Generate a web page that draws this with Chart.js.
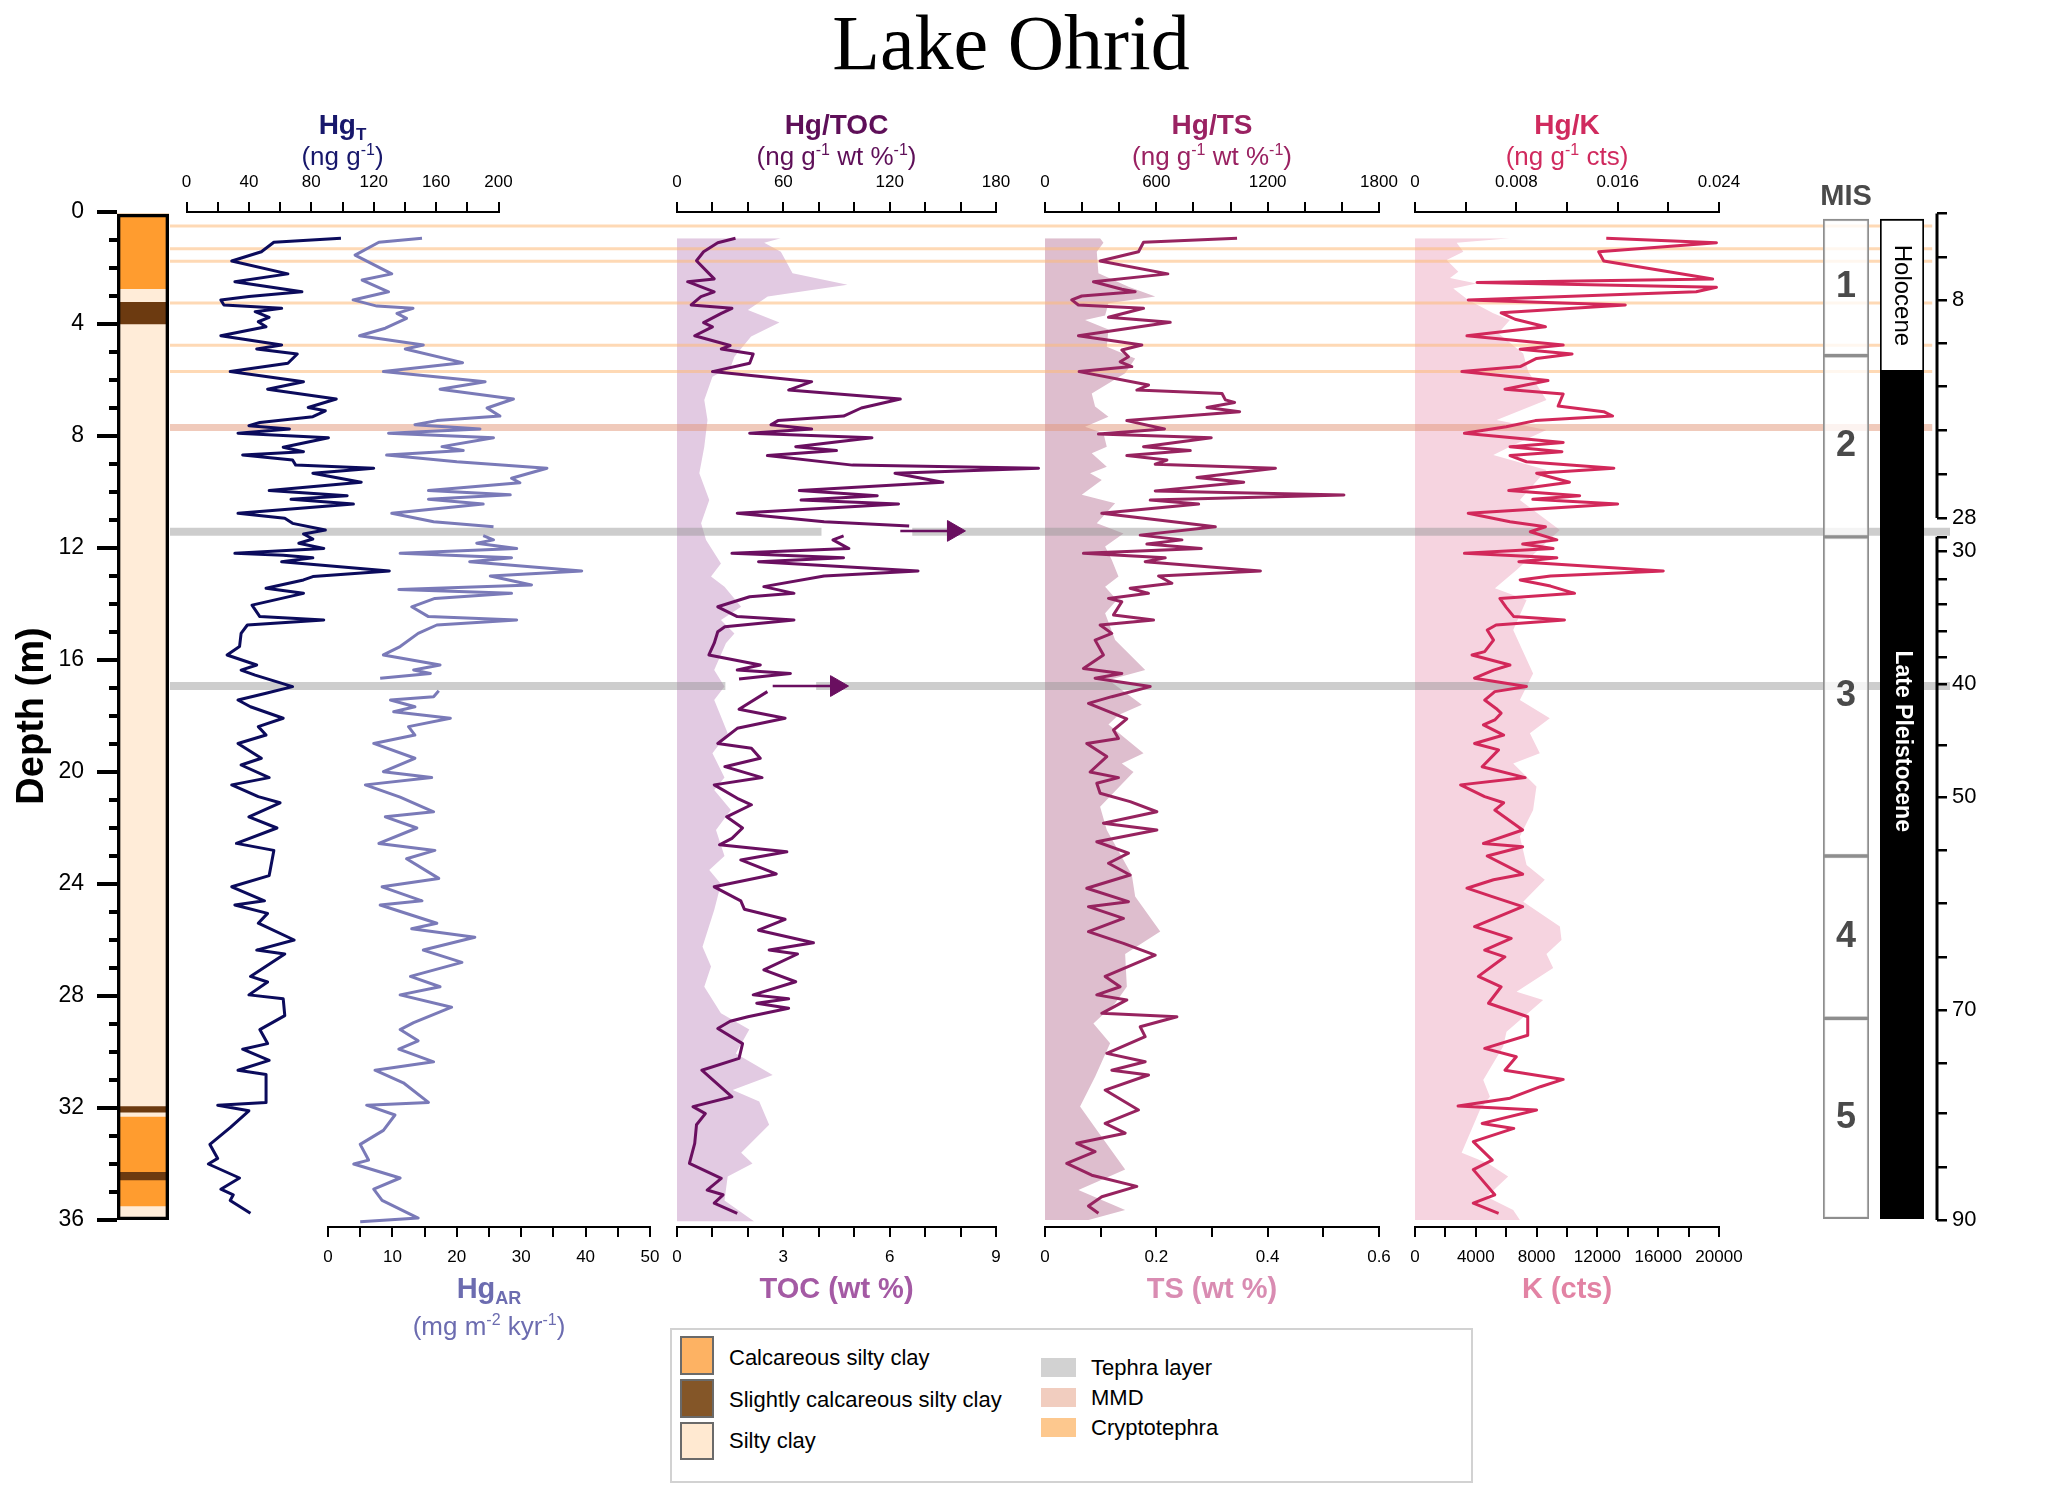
<!DOCTYPE html>
<html lang="en">
<head>
<meta charset="UTF-8">
<title>Lake Ohrid</title>
<script src="https://cdn.jsdelivr.net/npm/chart.js"></script>
<style>
  html, body { margin: 0; padding: 0; background: #fff; }
  body { width: 2067px; height: 1499px; position: relative; overflow: hidden;
         font-family: "Liberation Sans", Arial, sans-serif; }
  canvas { position: absolute; top: 0; }
  #title { position: absolute; left: 0; width: 2022px; top: 4px; text-align: center;
           font-family: "Liberation Serif", "Times New Roman", serif; font-size: 78px;
           line-height: 78px; color: #000; z-index: 5; }
  #legend { position: absolute; left: 670px; top: 1328px; width: 803px; height: 155px;
            box-sizing: border-box; border: 2px solid #d2d2d2; background: #fff; z-index: 5; }
  .sw { position: absolute; left: 8px; width: 34px; box-sizing: border-box; border: 2px solid #6a6a6a; }
  .bs { position: absolute; left: 369px; width: 35px; height: 19px; }
  .lt { position: absolute; font-size: 22px; line-height: 26px; transform: translateY(-50%); white-space: nowrap; color: #000; }
</style>
</head>
<body>
<div id="title">Lake Ohrid</div>
<div id="legend">
  <div class="sw" style="top:6px;height:39px;background:#fdb263"></div>
  <div class="lt" style="left:57px;top:28px">Calcareous silty clay</div>
  <div class="sw" style="top:49px;height:39px;background:#845628"></div>
  <div class="lt" style="left:57px;top:70px">Slightly calcareous silty clay</div>
  <div class="sw" style="top:92px;height:38px;background:#ffe9d1"></div>
  <div class="lt" style="left:57px;top:111px">Silty clay</div>
  <div class="bs" style="top:28px;background:#d2d2d2"></div>
  <div class="lt" style="left:419px;top:38px">Tephra layer</div>
  <div class="bs" style="top:58px;background:#f1cdbf"></div>
  <div class="lt" style="left:419px;top:68px">MMD</div>
  <div class="bs" style="top:88px;background:#fdc88e"></div>
  <div class="lt" style="left:419px;top:98px">Cryptotephra</div>
</div>

<script>
// ---- data: [depth (m), value] ----
const hgtProfile = [[0.94,99],[1.08,56],[1.42,48],[1.75,29],[2.21,65],[2.49,31],[2.85,74],[3.02,40],[3.14,22],[3.32,24],
  [3.44,61],[3.56,44],[3.76,53],[3.92,46],[4.10,51],[4.42,22],[4.75,61],[4.89,45],[5.07,71],[5.40,65],
  [5.70,28],[6.06,75],[6.33,52],[6.68,96],[6.98,78],[7.10,89],[7.31,81],[7.52,47],[7.63,40],[7.75,66],
  [7.90,33],[8.06,91],[8.40,62],[8.56,75],[8.68,36],[8.86,68],[9.04,70],[9.15,120],[9.33,81],[9.65,112],
  [9.95,53],[10.13,103],[10.26,67],[10.43,107],[10.76,33],[10.94,63],[11.12,68],[11.36,89],[11.50,75],[11.68,81],
  [11.83,72],[12.02,88],[12.19,31],[12.26,62],[12.35,81],[12.49,61],[12.82,130],[13.02,81],[13.14,75],[13.44,51],
  [13.62,75],[14.04,42],[14.45,47],[14.57,88],[14.75,39],[15.05,35],[15.52,34],[15.82,26],[16.18,45],[16.36,35],
  [16.54,44],[16.95,68],[17.19,51],[17.43,33],[17.67,41],[18.08,62],[18.38,46],[18.68,51],[18.98,33],[19.51,48],
  [19.75,35],[20.20,53],[20.46,29],[20.88,46],[21.10,60],[21.60,40],[22.00,58],[22.55,32],[22.80,56],[23.70,53],
  [24.10,29],[24.60,50],[24.75,31],[25.05,52],[25.40,46],[26.00,69],[26.36,45],[26.50,63],[27.30,41],[27.50,52],
  [27.96,40],[28.10,62],[28.70,63],[29.20,47],[29.70,52],[29.90,36],[30.30,53],[30.65,33],[30.80,51],[31.80,51],
  [31.90,20],[32.10,40],[32.70,28],[33.30,15],[33.80,20],[34.00,14],[34.50,34],[34.90,22],[35.10,30],[35.30,28],[35.76,41]];

const hgarProfile = [[0.94,14.6],[1.08,7.9],[1.54,4.2],[2.21,9.9],[2.43,5.3],[2.85,9.4],[3.14,3.9],[3.36,7.6],[3.44,13.2],[3.62,10.7],
  [3.80,12.2],[4.15,8.9],[4.42,4.9],[4.75,14.8],[4.89,12.0],[5.38,20.9],[5.70,8.6],[6.06,24.4],[6.33,17.4],[6.68,28.8],
  [7.00,24.7],[7.29,26.7],[7.45,16.9],[7.60,13.5],[7.75,23.6],[7.90,9.4],[8.06,25.7],[8.38,17.7],[8.52,21.0],[8.68,9.1],
  [8.92,20.0],[9.15,34.0],[9.51,28.5],[9.67,29.8],[9.95,15.6],[10.10,28.3],[10.26,15.6],[10.43,24.1],[10.76,9.9],[11.06,16.4],
  [11.24,25.7],[11.40,null],[11.56,24.1],[11.71,25.7],[11.83,23.1],[12.02,29.3],[12.19,11.2],[12.35,28.5],[12.49,22.0],[12.82,39.4],
  [13.00,25.2],[13.32,31.6],[13.48,11.0],[13.62,28.5],[13.80,16.6],[14.10,13.0],[14.45,15.6],[14.57,29.3],[14.75,16.9],[15.05,14.0],
  [15.52,11.2],[15.82,8.6],[16.18,17.4],[16.36,13.3],[16.48,15.9],[16.65,8.1],[16.90,null],[17.10,17.2],[17.31,16.4],[17.43,9.7],
  [17.67,13.5],[17.85,10.2],[18.08,19.0],[18.38,12.5],[18.68,13.5],[18.98,7.1],[19.51,13.5],[19.99,8.6],[20.20,16.1],[20.46,5.8],
  [20.90,11.2],[21.42,16.4],[21.60,8.9],[22.00,13.8],[22.55,7.9],[22.80,16.6],[23.10,12.2],[23.80,17.2],[24.10,8.4],[24.60,14.6],
  [24.75,8.1],[25.40,16.9],[25.60,13.0],[25.90,22.8],[26.36,14.8],[26.80,20.8],[27.30,12.8],[27.67,17.4],[27.96,11.2],[28.40,19.2],
  [28.95,13.3],[29.20,11.2],[29.60,14.0],[29.90,11.0],[30.35,16.4],[30.65,7.3],[31.10,11.7],[31.80,15.6],[31.90,6.0],[32.25,10.4],
  [32.80,8.6],[33.30,5.0],[33.86,6.3],[34.00,4.0],[34.50,11.2],[34.90,7.1],[35.30,8.4],[35.93,14.0],[36.06,5.0]];

const hgtocProfile = [[0.94,33],[1.10,23],[1.42,15],[1.74,11],[2.39,21],[2.49,6],[2.85,21],[3.02,13.5],[3.32,8],[3.44,31],
  [3.62,25],[3.95,15],[4.10,20],[4.42,10],[4.77,30],[4.89,25],[5.07,43],[5.40,41],[5.70,20],[6.06,76],
  [6.36,63],[6.68,126],[7.00,104],[7.29,94],[7.45,57],[7.60,53],[7.75,76],[7.90,41],[8.06,110],[8.38,67],
  [8.52,90],[8.70,51],[9.04,99],[9.15,204],[9.33,123],[9.65,150],[9.95,69],[10.13,113],[10.29,70],[10.43,125],
  [10.76,34],[11.06,83],[11.21,131],[11.40,null],[11.57,94],[11.71,88],[12.02,97],[12.19,31],[12.35,94],[12.49,46],
  [12.82,136],[13.00,83],[13.38,49],[13.62,66],[13.74,41],[14.10,23],[14.45,34],[14.57,66],[14.81,27],[14.99,23],
  [15.40,21],[15.82,18],[16.18,47],[16.36,34],[16.48,64],[16.68,35],[16.93,null],[17.13,51],[17.76,35],[18.08,61],
  [18.44,34],[18.98,23],[19.15,42],[19.51,47],[19.81,27],[20.20,48],[20.46,21],[20.94,34],[21.17,42],[21.60,28],
  [22.00,37],[22.37,31],[22.60,24],[22.85,62],[23.14,36],[23.64,56],[24.10,21],[24.60,36],[24.90,38],[25.26,61],
  [25.65,46],[26.10,77],[26.36,52],[26.50,68],[27.07,49],[27.49,67],[27.96,43],[28.10,63],[28.26,45],[28.44,63],
  [28.74,40],[28.90,30],[29.16,23],[29.70,37],[30.23,35],[30.65,14],[31.60,31],[31.95,9],[32.20,16],[32.60,11],
  [33.26,10],[33.98,7],[34.51,25],[34.93,17],[35.10,26],[35.40,21],[35.76,34]];

// Hg/TOC values beyond the plotted part are flagged with arrows
const hgtocArrowDepth = [11.39, 16.93];
const hgtocArrowFrom  = [126, 54];
const hgtocArrowTo    = [156, 90];

const tocProfile = [[0.94,2.93],[1.10,2.46],[1.42,2.93],[2.19,3.26],[2.60,4.81],[3.02,2.56],[3.50,2.0],[3.95,2.89],[4.45,2.09],[5.17,1.62],
  [5.52,1.52],[5.88,1.0],[6.71,0.77],[7.43,0.86],[8.38,0.77],[9.33,0.63],[10.29,0.91],[11.12,0.68],[11.71,0.82],[12.55,1.24],
  [13.02,0.96],[13.38,1.34],[14.10,1.81],[14.57,1.24],[15.05,1.62],[15.40,1.38],[16.36,1.05],[16.95,1.34],[17.43,1.05],[18.02,1.24],
  [18.62,1.43],[19.33,1.0],[20.20,1.34],[20.64,1.05],[21.36,1.52],[22.07,1.10],[23.00,1.34],[23.50,0.91],[24.00,1.24],[24.93,1.05],
  [26.24,0.72],[26.95,0.96],[27.67,0.77],[28.62,1.24],[29.20,2.04],[30.05,1.66],[30.82,2.70],[31.36,1.57],[31.77,2.32],[32.60,2.60],
  [33.60,1.81],[33.98,2.13],[34.45,1.43],[35.30,1.34],[36.05,2.18]];

const hgtsProfile = [[0.94,1035],[1.08,531],[1.42,504],[1.75,297],[2.21,662],[2.49,261],[2.76,414],[2.85,486],[3.00,198],[3.14,144],
  [3.32,180],[3.44,531],[3.76,342],[3.94,675],[4.42,180],[4.75,522],[4.93,414],[5.17,450],[5.35,405],[5.52,468],
  [5.70,184],[6.18,558],[6.36,495],[6.48,954],[6.71,972],[6.80,1022],[6.98,873],[7.13,1049],[7.45,441],[7.75,644],
  [7.93,288],[8.06,896],[8.38,531],[8.52,783],[8.70,441],[8.86,657],[9.01,594],[9.15,1242],[9.48,819],[9.65,1071],
  [9.96,594],[10.11,1611],[10.29,567],[10.43,828],[10.76,306],[11.24,918],[11.54,513],[11.71,738],[11.86,549],[12.02,842],
  [12.19,207],[12.35,648],[12.49,540],[12.82,1161],[13.00,612],[13.26,684],[13.44,459],[13.62,558],[13.80,342],[13.92,414],
  [14.39,369],[14.57,585],[14.75,297],[15.05,360],[15.29,270],[15.82,315],[16.30,207],[16.48,414],[16.65,270],[16.95,567],
  [17.31,360],[17.55,234],[17.79,324],[18.10,441],[18.50,369],[18.80,396],[18.98,225],[19.45,333],[20.00,243],[20.20,396],
  [20.40,279],[20.76,297],[21.06,459],[21.42,603],[21.83,315],[22.07,603],[22.49,279],[22.90,450],[23.26,342],[23.68,459],
  [24.15,225],[24.63,450],[24.81,234],[25.23,423],[25.70,234],[26.12,423],[26.54,594],[27.30,324],[27.67,405],[27.96,279],
  [28.14,441],[28.62,306],[28.74,711],[29.10,513],[29.45,540],[30.05,333],[30.35,540],[30.65,360],[30.82,558],[31.36,324],
  [32.07,504],[32.55,324],[32.90,432],[33.26,171],[33.56,270],[33.98,117],[34.40,252],[34.80,495],[35.17,306],[35.50,234],[35.76,288]];

const tsProfile = [[0.94,0.099],[1.10,0.105],[1.42,0.093],[2.19,0.096],[2.67,0.150],[3.02,0.198],[3.26,0.114],[3.70,0.108],[3.86,0.072],[4.20,0.114],
  [4.81,0.111],[5.23,0.162],[5.76,0.144],[6.48,0.084],[6.95,0.090],[7.31,0.114],[7.67,0.072],[7.90,0.105],[8.38,0.111],[8.62,0.084],
  [9.10,0.111],[9.33,0.081],[9.57,0.102],[10.10,0.066],[10.40,0.126],[11.12,0.093],[11.48,0.141],[11.95,0.108],[12.43,0.120],[13.02,0.132],
  [13.38,0.108],[13.86,0.129],[14.33,0.108],[15.29,0.126],[16.36,0.180],[16.71,0.114],[17.60,0.174],[17.96,0.132],[18.30,0.114],[19.33,0.177],
  [19.70,0.138],[20.00,0.159],[21.24,0.099],[22.07,0.111],[23.68,0.156],[24.45,0.162],[25.70,0.207],[26.50,0.144],[27.67,0.147],[28.26,0.126],
  [28.98,0.087],[29.69,0.117],[30.88,0.090],[31.95,0.063],[32.79,0.093],[34.20,0.144],[34.93,0.060],[35.64,0.144],[36.00,0.078]];

const hgkProfile = [[0.94,0.0151],[1.10,0.0238],[1.42,0.0145],[1.75,0.0149],[2.39,0.0235],[2.52,0.0049],[2.69,0.0238],[2.85,0.0222],[3.14,0.0042],[3.32,0.0166],
  [3.60,0.0068],[3.83,0.0079],[4.10,0.0103],[4.42,0.0041],[4.75,0.0117],[4.90,0.0083],[5.07,0.0124],[5.23,0.0096],[5.52,0.0083],[5.70,0.0037],
  [6.02,0.0105],[6.33,0.0071],[6.50,0.0117],[6.93,0.0113],[7.13,0.0149],[7.29,0.0156],[7.45,0.0095],[7.67,0.0072],[7.90,0.0039],[8.23,0.0117],
  [8.38,0.0075],[8.56,0.0116],[8.70,0.0075],[8.92,0.0088],[9.15,0.0157],[9.33,0.0096],[9.65,0.0122],[9.95,0.0074],[10.13,0.0130],[10.26,0.0093],
  [10.43,0.0160],[10.76,0.0042],[11.06,0.0075],[11.24,0.0103],[11.42,0.0091],[11.71,0.0112],[11.86,0.0085],[12.02,0.0109],[12.19,0.0039],[12.35,0.0112],
  [12.49,0.0082],[12.82,0.0196],[13.00,0.0107],[13.14,0.0083],[13.36,0.0107],[13.62,0.0126],[13.80,0.0067],[14.12,0.0072],[14.45,0.0078],[14.57,0.0118],
  [14.75,0.0064],[14.93,0.0057],[15.29,0.0062],[15.70,0.0055],[15.82,0.0045],[16.18,0.0075],[16.36,0.0062],[16.65,0.0047],[16.95,0.0088],[17.13,0.0063],
  [17.43,0.0055],[17.73,0.0064],[17.90,0.0068],[18.14,0.0063],[18.32,0.0054],[18.68,0.0070],[18.98,0.0047],[19.21,0.0066],[19.81,0.0053],[20.20,0.0087],
  [20.46,0.0036],[20.88,0.0055],[21.10,0.0070],[21.36,0.0063],[22.07,0.0085],[22.55,0.0054],[22.67,0.0085],[23.00,0.0057],[23.65,0.0085],[23.85,0.0062],
  [24.15,0.0041],[24.45,0.0061],[24.81,0.0085],[25.52,0.0047],[25.94,0.0076],[26.36,0.0055],[26.60,0.0071],[27.30,0.0050],[27.67,0.0068],[28.26,0.0058],
  [28.74,0.0089],[29.40,0.0089],[29.87,0.0055],[30.17,0.0080],[30.65,0.0071],[30.98,0.0117],[31.24,0.0099],[31.65,0.0075],[31.93,0.0034],[32.07,0.0096],
  [32.55,0.0053],[32.73,0.0078],[33.20,0.0046],[33.86,0.0061],[34.20,0.0046],[35.10,0.0063],[35.40,0.0046],[35.76,0.0066]];

const kProfile = [[0.94,6240],[1.10,2740],[1.42,3180],[1.71,2080],[2.13,2850],[2.36,2300],[2.55,4050],[2.73,2520],[3.14,3500],[3.62,5150],
  [3.86,6240],[4.33,5480],[5.05,7120],[5.70,7450],[6.71,8650],[7.43,5370],[7.79,8650],[8.38,6240],[8.68,5150],[9.21,8650],
  [10.29,6900],[11.00,8650],[11.36,9530],[12.79,6680],[13.44,5260],[13.86,7340],[14.93,6460],[16.48,7770],[17.43,6900],[18.08,8870],
  [18.62,7560],[19.33,8210],[19.70,6460],[20.52,7990],[21.36,7770],[22.30,6900],[23.32,7340],[23.85,8540],[24.63,7120],[25.52,9530],
  [26.00,9640],[26.50,8650],[27.00,9090],[27.85,6680],[28.14,8430],[29.28,6020],[29.80,5800],[31.00,4490],[31.60,4930],[32.07,4270],
  [33.60,3070],[33.98,4820],[34.45,6130],[35.17,4710],[35.64,6460],[36.00,6900]];

// lithology column (depth intervals)
const lithTop    = [0, 2.74, 3.2, 4.0, 31.93, 32.15, 32.3, 34.27, 34.57, 35.5];
const lithBottom = [2.74, 3.2, 4.0, 31.93, 32.15, 32.3, 34.27, 34.57, 35.5, 36];
const lithType   = ['calc', 'silty', 'slight', 'silty', 'slight', 'silty', 'calc', 'slight', 'calc', 'silty'];

// marine isotope stages
const misTop    = [0.25, 5.13, 11.6, 23.0, 28.8];
const misBottom = [5.13, 11.6, 23.0, 28.8, 35.95];
const misLabels = ['1', '2', '3', '4', '5'];

// epochs
const epochTop    = [0.25, 5.7];
const epochBottom = [5.7, 35.95];
const epochLabels = ['Holocene', 'Late Pleistocene'];
const epochLabelDepth = [2.98, 18.9];

// age scale (ka) against depth
const ageTickDepth = [0.05, 1.6, 3.15, 4.7, 6.24, 7.81, 9.36, 10.93, 11.6, 12.1, 13.1, 14.0, 14.96, 15.9, 16.87,
  19.04, 20.9, 22.8, 24.7, 26.6, 28.5, 30.4, 32.2, 34.1, 36.0];
const ageTickLabel = ['', '', '8', '', '', '', '', '28', '', '30', '', '', '', '', '40',
  '', '50', '', '', '', '70', '', '', '', '90'];
const ageSegTop    = [0.05, 11.6];
const ageSegBottom = [10.93, 36.0];

// horizontal marker layers: depth, kind, extent (fraction of the frame)
const bandDepth = [0.5, 1.31, 1.76, 3.25, 4.76, 5.7, 7.7, 11.42, 16.93];
const bandKind  = ['crypto', 'crypto', 'crypto', 'crypto', 'crypto', 'crypto', 'mmd', 'tephra', 'tephra'];
const bandSpans = [[[0, 0.99]], [[0, 0.99]], [[0, 0.99]], [[0, 0.99]], [[0, 0.99]], [[0, 0.99]], [[0, 0.99]],
  [[0, 0.366], [0.417, 1]], [[0, 0.312], [0.363, 1]]];

// axis ticks
const depthTicks = [0, 4, 8, 12, 16, 20, 24, 28, 32, 36];
const hgtTicks = [0, 20, 40, 60, 80, 100, 120, 140, 160, 180, 200];
const hgtTickLabels = ['0', '', '40', '', '80', '', '120', '', '160', '', '200'];
const hgarTicks = [0, 5, 10, 15, 20, 25, 30, 35, 40, 45, 50];
const hgarTickLabels = ['0', '', '10', '', '20', '', '30', '', '40', '', '50'];
const hgtocTicks = [0, 20, 40, 60, 80, 100, 120, 140, 160, 180];
const hgtocTickLabels = ['0', '', '', '60', '', '', '120', '', '', '180'];
const tocTicks = [0, 1, 2, 3, 4, 5, 6, 7, 8, 9];
const tocTickLabels = ['0', '', '', '3', '', '', '6', '', '', '9'];
const hgtsTicks = [0, 200, 400, 600, 800, 1000, 1200, 1400, 1600, 1800];
const hgtsTickLabels = ['0', '', '', '600', '', '', '1200', '', '', '1800'];
const tsTicks = [0, 0.1, 0.2, 0.3, 0.4, 0.5, 0.6];
const tsTickLabels = ['0', '', '0.2', '', '0.4', '', '0.6'];
const hgkTicks = [0, 0.004, 0.008, 0.012, 0.016, 0.02, 0.024];
const hgkTickLabels = ['0', '', '0.008', '', '0.016', '', '0.024'];
const kTicks = [0, 2000, 4000, 6000, 8000, 10000, 12000, 14000, 16000, 18000, 20000];
const kTickLabels = ['0', '', '4000', '', '8000', '', '12000', '', '16000', '', '20000'];

// ---- layout / styling ----
const FONT = '"Liberation Sans", Arial, Helvetica, sans-serif';
const H = 1499;
const TOP = 212;          // depth 0
const BOT = 1220;         // depth 36
const PANEL_BOT = 1227;   // bottom axis line of the profile panels
const PANEL_MAX = 36.25;  // depth at PANEL_BOT
const AXIS_H = 44;

Chart.defaults.font.family = FONT;
Chart.defaults.color = '#000';

function makeChart(left, width, pad, config) {
  const cv = document.createElement('canvas');
  cv.width = width;
  cv.height = H;
  cv.style.left = left + 'px';
  cv.style.width = width + 'px';
  cv.style.height = H + 'px';
  document.body.appendChild(cv);
  config.options = Object.assign({
    responsive: false, animation: false, devicePixelRatio: 1, events: [],
    layout: { autoPadding: false, padding: pad }
  }, config.options || {});
  config.options.plugins = Object.assign({ legend: { display: false }, tooltip: { enabled: false } },
    config.options.plugins || {});
  return new Chart(cv, config);
}

function rich(ctx, parts, cx, baseline, size, color, bold) {
  const font = k => (bold ? 'bold ' : '') + (k ? Math.round(size * 0.62) : size) + 'px ' + FONT;
  let w = 0;
  parts.forEach(p => { ctx.font = font(p[1]); w += ctx.measureText(p[0]).width; });
  let x = cx - w / 2;
  ctx.fillStyle = color;
  ctx.textAlign = 'left';
  ctx.textBaseline = 'alphabetic';
  parts.forEach(p => {
    ctx.font = font(p[1]);
    const dy = p[1] === 'sup' ? -size * 0.4 : p[1] === 'sub' ? size * 0.22 : 0;
    ctx.fillText(p[0], x, baseline + dy);
    x += ctx.measureText(p[0]).width;
  });
}

function titlePlugin(lines) {
  return {
    id: 'panelTitles',
    afterDraw(chart) {
      const a = chart.chartArea, ctx = chart.ctx;
      ctx.save();
      lines.forEach(l => rich(ctx, l.parts, (a.left + a.right) / 2, l.y, l.size, l.color, l.bold));
      ctx.restore();
    }
  };
}

function xAxis(pos, min, max, ticks, labels) {
  return {
    type: 'linear', position: pos, min: min, max: max,
    afterBuildTicks: s => { s.ticks = ticks.map(v => ({ value: v })); },
    afterFit: s => { s.height = AXIS_H; },
    ticks: { autoSkip: false, maxRotation: 0, padding: pos === 'top' ? 9 : 10,
             color: '#000', font: { size: 17 }, callback: (v, i) => labels[i] },
    grid: { drawOnChartArea: false, tickLength: 10, color: '#000', lineWidth: 2 },
    border: { display: true, color: '#000', width: 2 }
  };
}

function hiddenDepth(max) {
  return { type: 'linear', min: 0, max: max, reverse: true, display: false };
}

function profileLine(profile, color) {
  return {
    data: profile.map(p => ({ x: p[1], y: p[0] })),
    borderColor: color, borderWidth: 3, pointRadius: 0, fill: false, tension: 0,
    borderJoinStyle: 'round', spanGaps: false, clip: false
  };
}

function profileFill(profile, color) {
  return {
    data: profile.map(p => ({ x: p[1], y: p[0] })),
    borderColor: 'rgba(0,0,0,0)', borderWidth: 1, backgroundColor: color,
    fill: 'origin', pointRadius: 0, tension: 0
  };
}

function profilePanel(o) {
  const pad = {
    left: o.areaL - o.left,
    right: o.left + o.width - o.areaR,
    top: o.axisPos === 'top' ? TOP - AXIS_H : TOP,
    bottom: o.axisPos === 'bottom' ? H - PANEL_BOT - AXIS_H : H - PANEL_BOT
  };
  return makeChart(o.left, o.width, pad, {
    type: 'line',
    data: { datasets: o.datasets },
    options: {
      indexAxis: 'y',
      scales: {
        x: xAxis(o.axisPos, o.xMin, o.xMax, o.ticks, o.labels),
        y: hiddenDepth(PANEL_MAX)
      }
    },
    plugins: [titlePlugin(o.titles)]
  });
}

const supNg = [['(ng g'], ['-1', 'sup']];

// ---- 1. fills with bottom axes ----
profilePanel({
  left: 630, width: 410, areaL: 677, areaR: 996, axisPos: 'bottom', xMin: 0, xMax: 9,
  ticks: tocTicks, labels: tocTickLabels,
  datasets: [profileFill(tocProfile, '#e2cae2')],
  titles: [{ parts: [['TOC (wt %)']], y: 1298, size: 29, bold: true, color: '#a45aa4' }]
});
profilePanel({
  left: 1000, width: 420, areaL: 1045, areaR: 1379, axisPos: 'bottom', xMin: 0, xMax: 0.6,
  ticks: tsTicks, labels: tsTickLabels,
  datasets: [profileFill(tsProfile, '#debece')],
  titles: [{ parts: [['TS (wt %)']], y: 1298, size: 29, bold: true, color: '#d98cb2' }]
});
profilePanel({
  left: 1370, width: 400, areaL: 1415, areaR: 1719, axisPos: 'bottom', xMin: 0, xMax: 20000,
  ticks: kTicks, labels: kTickLabels,
  datasets: [profileFill(kProfile, '#f6d4e0')],
  titles: [{ parts: [['K (cts)']], y: 1298, size: 29, bold: true, color: '#e283a4' }]
});

// ---- 2. tephra / MMD / cryptotephra layers ----
const bandStyle = {
  crypto: { color: 'rgba(253,185,120,0.55)', width: 3 },
  mmd:    { color: 'rgba(226,150,120,0.5)', width: 7 },
  tephra: { color: 'rgba(150,150,150,0.48)', width: 8 }
};
const bandSets = [];
bandDepth.forEach((d, i) => {
  bandSpans[i].forEach(s => {
    const st = bandStyle[bandKind[i]];
    bandSets.push({
      data: [{ x: s[0], y: d }, { x: s[1], y: d }],
      showLine: true, borderColor: st.color, borderWidth: st.width,
      pointRadius: 0, borderCapStyle: 'butt'
    });
  });
});
makeChart(160, 1800, { left: 10, right: 10, top: TOP, bottom: H - BOT }, {
  type: 'scatter',
  data: { datasets: bandSets },
  options: {
    scales: {
      x: { type: 'linear', min: 0, max: 1, display: false },
      y: hiddenDepth(36)
    }
  }
});

// ---- 3. profile lines ----
profilePanel({
  left: 140, width: 420, areaL: 186.5, areaR: 498.5, axisPos: 'top', xMin: 0, xMax: 200,
  ticks: hgtTicks, labels: hgtTickLabels,
  datasets: [profileLine(hgtProfile, '#0b0b5c')],
  titles: [
    { parts: [['Hg'], ['T', 'sub']], y: 134, size: 28, bold: true, color: '#17176b' },
    { parts: supNg.concat([[')']]), y: 165, size: 26, color: '#17176b' }
  ]
});
profilePanel({
  left: 280, width: 420, areaL: 328, areaR: 650, axisPos: 'bottom', xMin: 0, xMax: 50,
  ticks: hgarTicks, labels: hgarTickLabels,
  datasets: [profileLine(hgarProfile, '#7a7ab8')],
  titles: [
    { parts: [['Hg'], ['AR', 'sub']], y: 1298, size: 29, bold: true, color: '#6c6cb0' },
    { parts: [['(mg m'], ['-2', 'sup'], [' kyr'], ['-1', 'sup'], [')']], y: 1335, size: 26, color: '#6c6cb0' }
  ]
});

const hgtocColor = '#6a0f60';
const arrowSets = hgtocArrowDepth.map((d, i) => ({
  data: [{ x: hgtocArrowFrom[i], y: d }, { x: hgtocArrowTo[i], y: d }],
  borderColor: hgtocColor, borderWidth: 2.5, fill: false, clip: false,
  pointRadius: [0, 12], pointStyle: 'triangle', pointRotation: 90,
  pointBackgroundColor: hgtocColor, pointBorderColor: hgtocColor, pointBorderWidth: 1
}));
profilePanel({
  left: 630, width: 420, areaL: 677, areaR: 996, axisPos: 'top', xMin: 0, xMax: 180,
  ticks: hgtocTicks, labels: hgtocTickLabels,
  datasets: [profileLine(hgtocProfile, hgtocColor)].concat(arrowSets),
  titles: [
    { parts: [['Hg/TOC']], y: 134, size: 28, bold: true, color: '#5e0f58' },
    { parts: supNg.concat([[' wt %'], ['-1', 'sup'], [')']]), y: 165, size: 26, color: '#5e0f58' }
  ]
});
profilePanel({
  left: 1000, width: 420, areaL: 1045, areaR: 1379, axisPos: 'top', xMin: 0, xMax: 1800,
  ticks: hgtsTicks, labels: hgtsTickLabels,
  datasets: [profileLine(hgtsProfile, '#97235f')],
  titles: [
    { parts: [['Hg/TS']], y: 134, size: 28, bold: true, color: '#9a2262' },
    { parts: supNg.concat([[' wt %'], ['-1', 'sup'], [')']]), y: 165, size: 26, color: '#9a2262' }
  ]
});
profilePanel({
  left: 1370, width: 400, areaL: 1415, areaR: 1719, axisPos: 'top', xMin: 0, xMax: 0.024,
  ticks: hgkTicks, labels: hgkTickLabels,
  datasets: [profileLine(hgkProfile, '#d2285a')],
  titles: [
    { parts: [['Hg/K']], y: 134, size: 28, bold: true, color: '#d02a5e' },
    { parts: supNg.concat([[' cts)']]), y: 165, size: 26, color: '#d02a5e' }
  ]
});

// ---- 4. lithology column with depth axis ----
const lithColors = { calc: '#ff9c2f', slight: '#6c3a10', silty: '#ffecd8' };
const lithSets = lithTop.map((t, i) => ({
  data: [[t, lithBottom[i]]], backgroundColor: lithColors[lithType[i]], borderWidth: 0,
  barPercentage: 1, categoryPercentage: 1, grouped: false, order: 1
}));
lithSets.push({
  data: [[0, 36]], backgroundColor: 'rgba(0,0,0,0)', borderColor: '#000', borderWidth: 3,
  borderSkipped: false, barPercentage: 1, categoryPercentage: 1, grouped: false, order: 0
});
makeChart(0, 200, { left: 0, right: 31, top: TOP, bottom: H - BOT }, {
  type: 'bar',
  data: { labels: ['lithology'], datasets: lithSets },
  options: {
    scales: {
      x: { type: 'category', display: false },
      y: {
        type: 'linear', position: 'left', min: 0, max: 36, reverse: true,
        afterBuildTicks: s => { s.ticks = depthTicks.map(v => ({ value: v })); },
        afterFit: s => { s.width = 117; },
        ticks: { autoSkip: false, padding: 13, color: '#000', font: { size: 23 }, callback: v => String(v) },
        grid: { drawOnChartArea: false, tickLength: 20, lineWidth: 4, color: '#000' },
        border: { display: false }
      }
    }
  },
  plugins: [{
    id: 'depthExtras',
    afterDraw(chart) {
      const ctx = chart.ctx, y = chart.scales.y, left = chart.chartArea.left;
      ctx.save();
      ctx.strokeStyle = '#000';
      ctx.lineWidth = 4;
      for (let d = 1; d < 36; d++) {
        if (d % 4 === 0) continue;
        const py = y.getPixelForValue(d);
        ctx.beginPath(); ctx.moveTo(left - 8, py); ctx.lineTo(left, py); ctx.stroke();
      }
      ctx.translate(33, (y.getPixelForValue(0) + y.getPixelForValue(36)) / 2);
      ctx.rotate(-Math.PI / 2);
      ctx.font = 'bold 38px ' + FONT;
      ctx.fillStyle = '#000';
      ctx.textAlign = 'center';
      ctx.textBaseline = 'middle';
      ctx.fillText('Depth (m)', 0, 0);
      ctx.restore();
    }
  }]
});

// ---- 5. MIS column ----
const misSets = misTop.map((t, i) => ({
  data: [[t, misBottom[i]]], backgroundColor: 'rgba(255,255,255,0.78)', borderColor: '#8e8e8e',
  borderWidth: 2, borderSkipped: false, barPercentage: 1, categoryPercentage: 1, grouped: false
}));
makeChart(1790, 110, { left: 33, right: 31, top: TOP, bottom: H - BOT }, {
  type: 'bar',
  data: { labels: ['MIS'], datasets: misSets },
  options: { scales: { x: { type: 'category', display: false }, y: hiddenDepth(36) } },
  plugins: [{
    id: 'misLabels',
    afterDatasetsDraw(chart) {
      const ctx = chart.ctx, a = chart.chartArea;
      ctx.save();
      ctx.fillStyle = '#4a4a4a';
      ctx.textAlign = 'center';
      ctx.textBaseline = 'middle';
      ctx.font = 'bold 36px ' + FONT;
      misLabels.forEach((lab, i) => {
        const el = chart.getDatasetMeta(i).data[0];
        ctx.fillText(lab, el.x, (el.y + el.base) / 2);
      });
      ctx.font = 'bold 29px ' + FONT;
      ctx.textBaseline = 'alphabetic';
      ctx.fillText('MIS', (a.left + a.right) / 2, 205);
      ctx.restore();
    }
  }]
});

// ---- 6. epoch column ----
const epochSets = epochTop.map((t, i) => ({
  data: [[t, epochBottom[i]]], backgroundColor: i === 0 ? '#fff' : '#000', borderColor: '#000',
  borderWidth: 2, borderSkipped: false, barPercentage: 1, categoryPercentage: 1, grouped: false
}));
makeChart(1870, 64, { left: 10, right: 10, top: TOP, bottom: H - BOT }, {
  type: 'bar',
  data: { labels: ['epoch'], datasets: epochSets },
  options: { scales: { x: { type: 'category', display: false }, y: hiddenDepth(36) } },
  plugins: [{
    id: 'epochLabels',
    afterDatasetsDraw(chart) {
      const ctx = chart.ctx, y = chart.scales.y;
      epochLabels.forEach((lab, i) => {
        const el = chart.getDatasetMeta(i).data[0];
        ctx.save();
        ctx.translate(el.x, y.getPixelForValue(epochLabelDepth[i]));
        ctx.rotate(Math.PI / 2);
        ctx.font = (i === 0 ? '' : 'bold ') + (i === 0 ? 24 : 23) + 'px ' + FONT;
        ctx.fillStyle = i === 0 ? '#000' : '#fff';
        ctx.textAlign = 'center';
        ctx.textBaseline = 'middle';
        ctx.fillText(lab, 0, 0);
        ctx.restore();
      });
    }
  }]
});

// ---- 7. age axis ----
makeChart(1890, 177, { left: 10, right: 0, top: TOP, bottom: H - BOT }, {
  type: 'scatter',
  data: { datasets: [] },
  options: {
    scales: {
      x: { type: 'linear', min: 0, max: 1, display: false },
      y: {
        type: 'linear', position: 'right', min: 0, max: 36, reverse: true,
        afterBuildTicks: s => { s.ticks = ageTickDepth.map(v => ({ value: v })); },
        afterFit: s => { s.width = 130; },
        ticks: { autoSkip: false, padding: 5, color: '#000', font: { size: 22 }, callback: (v, i) => ageTickLabel[i] },
        grid: { drawOnChartArea: false, tickLength: 10, lineWidth: 2.5, color: '#000' },
        border: { display: false }
      }
    }
  },
  plugins: [{
    id: 'ageAxisLine',
    afterDraw(chart) {
      const ctx = chart.ctx, y = chart.scales.y, x = chart.chartArea.right;
      ctx.save();
      ctx.strokeStyle = '#000';
      ctx.lineWidth = 3;
      ageSegTop.forEach((t, i) => {
        ctx.beginPath();
        ctx.moveTo(x, y.getPixelForValue(t));
        ctx.lineTo(x, y.getPixelForValue(ageSegBottom[i]));
        ctx.stroke();
      });
      ctx.translate(2034, (y.getPixelForValue(0) + y.getPixelForValue(36)) / 2 - 7);
      ctx.rotate(-Math.PI / 2);
      ctx.font = 'bold 38px ' + FONT;
      ctx.fillStyle = '#000';
      ctx.textAlign = 'center';
      ctx.textBaseline = 'middle';
      ctx.fillText('Age (ka)', 0, 0);
      ctx.restore();
    }
  }]
});
</script>
</body>
</html>
